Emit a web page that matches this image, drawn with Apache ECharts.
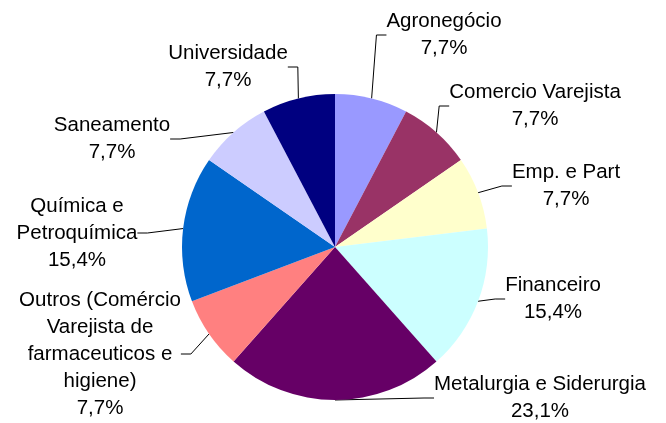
<!DOCTYPE html>
<html>
<head>
<meta charset="utf-8">
<script src="https://cdn.jsdelivr.net/npm/echarts@6/dist/echarts.min.js"></script>
<style>
  html, body { margin: 0; padding: 0; background: #fff; }
  #chart { width: 666px; height: 423px; }
</style>
</head>
<body>
<div id="chart"></div>
<script>
// sectors, clockwise from 12 o'clock
const sectors = [
  'Agronegócio',
  'Comercio Varejista',
  'Emp. e Part',
  'Financeiro',
  'Metalurgia e Siderurgia',
  'Outros (Comércio\nVarejista de\nfarmaceuticos e\nhigiene)',
  'Química e\nPetroquímica',
  'Saneamento',
  'Universidade'
]
const counts = [1, 1, 1, 2, 3, 1, 2, 1, 1]

const colors = ['#9999ff', '#993366', '#ffffcc', '#ccffff', '#660066',
  '#ff8080', '#0066cc', '#ccccff', '#000080']

// where each label block sits (center of the text)
const labelSpots = [
  [444, 35], [535, 106], [566, 186], [553, 299], [540, 398],
  [100, 354], [77, 233], [112, 139], [228, 67]
]

const total = counts.reduce((a, b) => a + b, 0)

const chart = echarts.init(document.getElementById('chart'))

chart.setOption({
  animation: false,
  backgroundColor: '#fff',
  series: [{
    type: 'pie',
    center: [335, 247],
    radius: 153,
    startAngle: 90,
    clockwise: true,
    data: sectors.map((name, i) => ({
      name: name,
      value: counts[i],
      itemStyle: { color: colors[i] }
    })),
    itemStyle: { borderWidth: 0 },
    label: {
      show: true,
      position: 'outside',
      color: '#000',
      fontFamily: 'Liberation Sans, Arial, sans-serif',
      fontSize: 20.5,
      lineHeight: 27,
      align: 'center',
      formatter: p => p.name + '\n' + (p.value / total * 100).toFixed(1).replace('.', ',') + '%'
    },
    labelLine: {
      show: true,
      length: 15,
      length2: 10,
      lineStyle: { color: '#000', width: 1 }
    },
    labelLayout: p => ({
      x: labelSpots[p.dataIndex][0],
      y: labelSpots[p.dataIndex][1],
      align: 'center',
      verticalAlign: 'middle'
    })
  }]
})
</script>
</body>
</html>
